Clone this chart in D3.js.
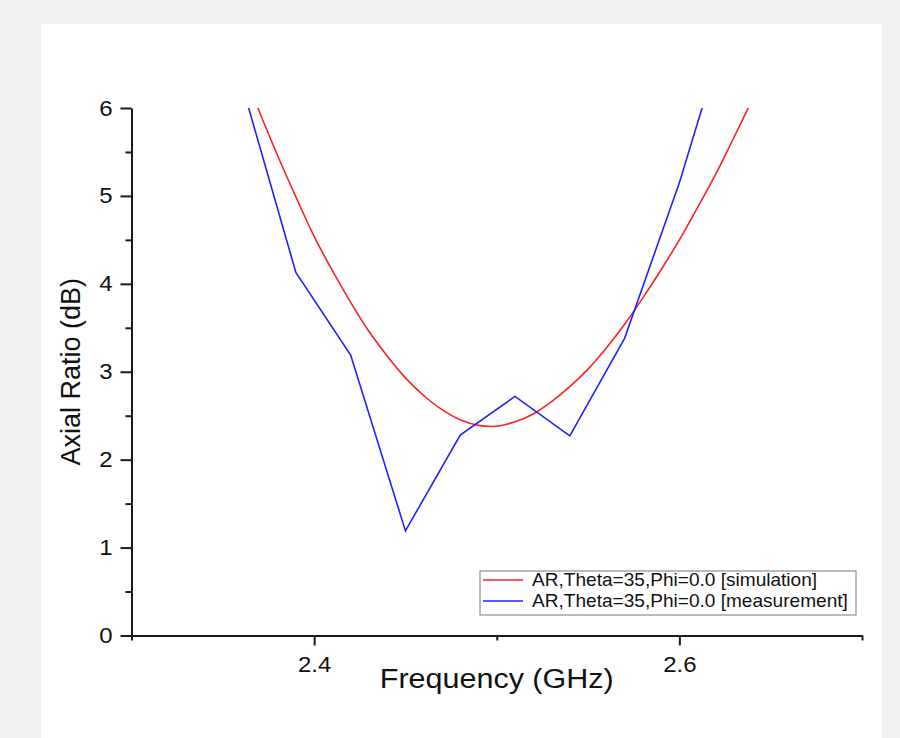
<!DOCTYPE html>
<html>
<head>
<meta charset="utf-8">
<script src="https://cdn.jsdelivr.net/npm/d3@7"></script>
<style>
  html, body { margin: 0; padding: 0; background: #f1f1f1; }
  svg { display: block; }
  text { font-family: "Liberation Sans", Arial, sans-serif; fill: #111; }
</style>
</head>
<body>
<svg id="chart" width="900" height="738"></svg>
<script>
// ---- data ----
const simFreq = [2.36, 2.37, 2.38, 2.39, 2.40, 2.41, 2.42, 2.43, 2.44, 2.45, 2.46, 2.47, 2.48, 2.49, 2.50,
                 2.51, 2.52, 2.53, 2.54, 2.55, 2.56, 2.57, 2.58, 2.59, 2.60, 2.61, 2.62, 2.63, 2.64, 2.65];
const simAR   = [6.51, 5.96, 5.46, 4.99, 4.54, 4.15, 3.79, 3.46, 3.18, 2.93, 2.73, 2.57, 2.455, 2.39, 2.38,
                 2.43, 2.52, 2.66, 2.83, 3.03, 3.27, 3.54, 3.84, 4.16, 4.50, 4.87, 5.25, 5.67, 6.10, 6.55];
const measFreq = [2.36, 2.39, 2.42, 2.45, 2.48, 2.51, 2.54, 2.57, 2.60, 2.63];
const measAR   = [6.30, 4.13, 3.19, 1.19, 2.28, 2.72, 2.27, 3.38, 5.15, 7.20];
const xMajorTicks = [2.4, 2.6];
const xMinorTicks = [2.3, 2.5, 2.7];
const yMajorTicks = [0, 1, 2, 3, 4, 5, 6];
const yMinorTicks = [0.5, 1.5, 2.5, 3.5, 4.5, 5.5];
const seriesNames = ["AR,Theta=35,Phi=0.0 [simulation]", "AR,Theta=35,Phi=0.0 [measurement]"];
const seriesColors = ["#ff2020", "#2020ff"];
const xTitle = "Frequency (GHz)";
const yTitle = "Axial Ratio (dB)";

// ---- layout ----
const sx = 1.09; // horizontal stretch of the reference's text
const svg = d3.select("#chart");
svg.append("rect").attr("x", 41).attr("y", 24).attr("width", 841).attr("height", 714).attr("fill", "#ffffff");

const pL = 131.5, pR = 862, pT = 108, pB = 635.5;
const x = d3.scaleLinear().domain([2.3, 2.7]).range([pL, pR]);
const y = d3.scaleLinear().domain([0, 6]).range([pB, pT]);

svg.append("defs").append("clipPath").attr("id", "clip")
  .append("rect").attr("x", pL).attr("y", pT).attr("width", pR - pL).attr("height", pB - pT);

const simData = simFreq.map((f, i) => [f, simAR[i]]);
const measData = measFreq.map((f, i) => [f, measAR[i]]);

const plot = svg.append("g").attr("clip-path", "url(#clip)");
plot.append("path").datum(simData)
  .attr("d", d3.line().x(d => x(d[0])).y(d => y(d[1])).curve(d3.curveCatmullRom.alpha(0.5)))
  .attr("fill", "none").attr("stroke", seriesColors[0]).attr("stroke-width", 1.6);
plot.append("path").datum(measData)
  .attr("d", d3.line().x(d => x(d[0])).y(d => y(d[1])))
  .attr("fill", "none").attr("stroke", seriesColors[1]).attr("stroke-width", 1.6);

// ---- axes ----
const axisColor = "#1a1a1a";
const gx = svg.append("g").attr("transform", `translate(0,${pB})`)
  .call(d3.axisBottom(x).tickValues(xMajorTicks).tickSize(10).tickSizeOuter(0).tickFormat(d3.format(".1f")));
const gxMinor = svg.append("g").attr("transform", `translate(0,${pB})`)
  .call(d3.axisBottom(x).tickValues(xMinorTicks).tickSize(5).tickSizeOuter(0).tickFormat(""));
gxMinor.select(".domain").remove();

const gy = svg.append("g").attr("transform", `translate(${pL},0)`)
  .call(d3.axisLeft(y).tickValues(yMajorTicks).tickSize(11).tickSizeOuter(0).tickFormat(d3.format("d")));
const gyMinor = svg.append("g").attr("transform", `translate(${pL},0)`)
  .call(d3.axisLeft(y).tickValues(yMinorTicks).tickSize(6).tickSizeOuter(0).tickFormat(""));
gyMinor.select(".domain").remove();

[gx, gxMinor, gy, gyMinor].forEach(g => {
  g.attr("font-size", null).attr("font-family", null);
  g.selectAll(".domain").attr("stroke", axisColor).attr("stroke-width", 2);
  g.selectAll(".tick line").attr("stroke", axisColor).attr("stroke-width", 2);
});
gx.selectAll(".tick text").style("font-size", "22px").attr("dy", "0.71em").attr("y", 21)
  .attr("transform", `scale(${sx},1)`).attr("fill", "#111");
gy.selectAll(".tick text").style("font-size", "22px").attr("x", -19 / sx)
  .attr("transform", `scale(${sx},1)`).attr("fill", "#111");

// ---- axis titles ----
svg.append("text").attr("transform", `translate(${(pL + pR) / 2},688) scale(${sx},1)`)
  .attr("text-anchor", "middle").style("font-size", "28px").text(xTitle);
svg.append("text").attr("transform", `translate(80,${(pT + pB) / 2}) rotate(-90)`)
  .attr("text-anchor", "middle").style("font-size", "27px").text(yTitle);

// ---- legend ----
const lg = svg.append("g");
lg.append("rect").attr("x", 480).attr("y", 571).attr("width", 376).attr("height", 44)
  .attr("fill", "#ffffff").attr("stroke", "#777").attr("stroke-width", 1);
seriesNames.forEach((name, i) => {
  const cy = 580 + i * 21;
  lg.append("line").attr("x1", 483).attr("x2", 523).attr("y1", cy).attr("y2", cy)
    .attr("stroke", seriesColors[i]).attr("stroke-width", 1.5);
  lg.append("text").attr("transform", `translate(532,${cy}) scale(${sx},1)`).attr("dy", "0.35em")
    .style("font-size", "17.5px").text(name);
});
</script>
</body>
</html>
